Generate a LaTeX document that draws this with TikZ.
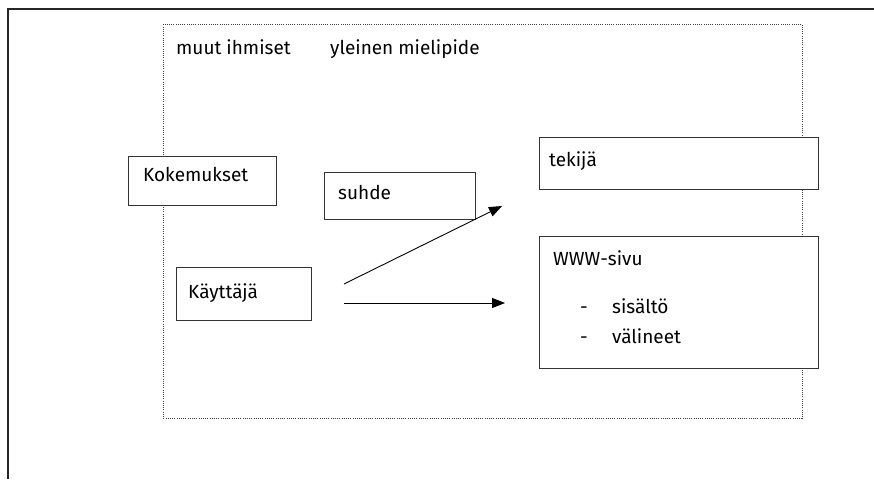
\documentclass[tikz,border=0pt]{standalone}
\usepackage{fontspec}
\setmainfont{Fira Sans}
\usetikzlibrary{arrows.meta}
\begin{document}
\begin{tikzpicture}[x=1pt,y=-1pt,
  frameline/.style={line width=1.3pt,draw=black!85},
  boxstyle/.style={draw=black!80,line width=1pt,rectangle,inner sep=0pt,anchor=north west},
  lbl/.style={anchor=base west,inner sep=0pt,font=\fontsize{19}{22}\selectfont,text=black},
  arr/.style={line width=0.9pt,-{Triangle[length=13pt,width=10pt]}}]
\useasboundingbox (0,0) rectangle (874,479);
% outer frame lines
\coordinate (ftl) at (8,9);
\coordinate (ftr) at (874,9);
\coordinate (fbl) at (8,479);
\draw[frameline] (fbl) -- (ftl) -- (ftr);
% dotted region
\node[draw=black!75,line width=0.9pt,dash pattern=on 1pt off 1.2pt,rectangle,inner sep=0pt,anchor=north west,minimum width=639pt,minimum height=394pt] (region) at (163,24) {};
% boxes
\node[boxstyle,fill=white,minimum width=148pt,minimum height=49pt] (kok) at (128,156) {};
\node[boxstyle,minimum width=151pt,minimum height=47pt] (suh) at (324,172) {};
\node[boxstyle,fill=white,minimum width=135pt,minimum height=53pt] (kay) at (176,267) {};
\node[boxstyle,fill=white,minimum width=279pt,minimum height=52pt] (tek) at (539,137) {};
\node[boxstyle,fill=white,minimum width=279pt,minimum height=132pt] (www) at (539,236) {};
% labels
\node[lbl] (l1) at (176,54) {muut ihmiset};
\node[lbl] (l2) at (330,54) {yleinen mielipide};
\node[lbl] (lk) at (143,181) {Kokemukset};
\node[lbl] (ls) at (338,199) {suhde};
\node[lbl] (lka) at (188,298) {Käyttäjä};
\node[lbl] (lt) at (549,166) {tekijä};
\node[lbl] (lw) at (553,265) {WWW-sivu};
\node[lbl] (d1) at (580,313) {-};
\node[lbl] (ls1) at (612,313) {sisältö};
\node[lbl] (d2) at (580,343) {-};
\node[lbl] (ls2) at (612,343) {välineet};
% arrows
\coordinate (a1s) at (344,284);
\coordinate (a1e) at (502,206);
\coordinate (a2s) at (344,303);
\coordinate (a2e) at (505,303);
\draw[arr] (a1s) -- (a1e);
\draw[arr] (a2s) -- (a2e);
\end{tikzpicture}
\end{document}
